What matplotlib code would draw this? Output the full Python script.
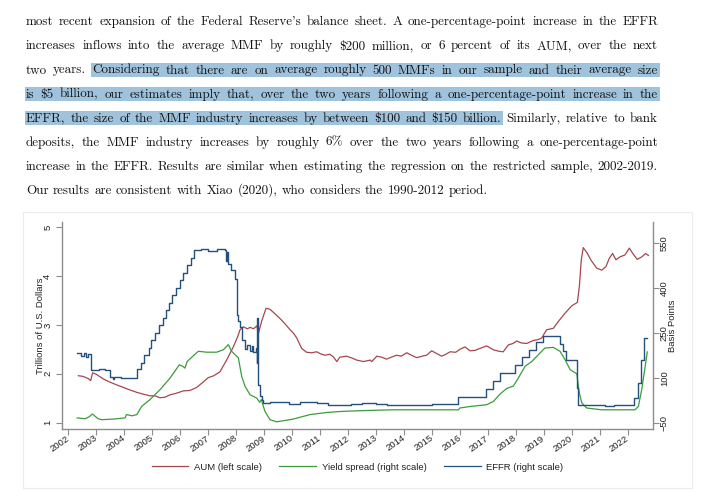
import matplotlib

matplotlib.use("Agg")
import matplotlib.pyplot as plt
from matplotlib.lines import Line2D
from matplotlib.patches import Rectangle

W, H = 707, 492

RED = "#a6474d"
GREEN = "#3b9c3b"
BLUE = "#24507d"
SPINE = "#8c8c8c"

PARAGRAPH = [
    "most recent expansion of the Federal Reserve's balance sheet. A one-percentage-point increase in the EFFR",
    "increases inflows into the average MMF by roughly $200 million, or 6 percent of its AUM, over the next",
    "two years. Considering that there are on average roughly 500 MMFs in our sample and their average size",
    "is $5 billion, our estimates imply that, over the two years following a one-percentage-point increase in the",
    "EFFR, the size of the MMF industry increases by between $100 and $150 billion. Similarly, relative to bank",
    "deposits, the MMF industry increases by roughly 6% over the two years following a one-percentage-point",
    "increase in the EFFR. Results are similar when estimating the regression on the restricted sample, 2002-2019.",
    "Our results are consistent with Xiao (2020), who considers the 1990-2012 period.",
]
HIGHLIGHT_FROM = (2, 2)   # line, word: "Considering"
HIGHLIGHT_TO = (4, 13)    # line, word: "billion."

YEARS = list(range(2002, 2023))
LEFT_TICKS = [1, 2, 3, 4, 5]
RIGHT_TICKS = [-50, 100, 250, 400, 550]
LEGEND_LABELS = ["AUM (left scale)", "Yield spread (right scale)", "EFFR (right scale)"]

# AUM, trillions of dollars (left scale)
AUM_YEARS = [2002.36, 2002.50, 2002.60, 2002.72, 2002.80, 2002.87, 2003.00, 2003.13, 2003.30, 2003.49,
             2003.70, 2003.97, 2004.20, 2004.45, 2004.70, 2004.92, 2005.10, 2005.28, 2005.45, 2005.64,
             2005.85, 2006.11, 2006.35, 2006.59, 2006.80, 2007.00, 2007.20, 2007.42, 2007.66, 2007.90,
             2008.05, 2008.14, 2008.26, 2008.40, 2008.50, 2008.62, 2008.74, 2008.80, 2008.91, 2009.07,
             2009.21, 2009.40, 2009.57, 2009.75, 2009.93, 2010.05, 2010.17, 2010.34, 2010.52, 2010.70,
             2010.88, 2011.05, 2011.18, 2011.35, 2011.47, 2011.60, 2011.71, 2011.95, 2012.15, 2012.31,
             2012.55, 2012.79, 2012.85, 2013.03, 2013.20, 2013.38, 2013.55, 2013.74, 2013.90, 2014.10,
             2014.30, 2014.46, 2014.65, 2014.81, 2014.99, 2015.15, 2015.35, 2015.50, 2015.65, 2015.85,
             2016.00, 2016.18, 2016.36, 2016.55, 2016.72, 2016.96, 2017.20, 2017.40, 2017.55, 2017.73,
             2017.90, 2018.03, 2018.20, 2018.39, 2018.62, 2018.80, 2018.92, 2019.10, 2019.34, 2019.52,
             2019.76, 2020.00, 2020.20, 2020.27, 2020.34, 2020.41, 2020.56, 2020.68, 2020.89, 2021.07,
             2021.22, 2021.34, 2021.46, 2021.58, 2021.72, 2021.90, 2022.06, 2022.18, 2022.34, 2022.50,
             2022.64, 2022.74]
AUM_TRILLIONS = [1.96, 1.95, 1.93, 1.90, 1.86, 2.02, 1.99, 1.94, 1.88, 1.83,
                 1.78, 1.72, 1.67, 1.62, 1.58, 1.55, 1.55, 1.51, 1.52, 1.57,
                 1.60, 1.65, 1.66, 1.72, 1.82, 1.92, 1.96, 2.04, 2.28, 2.55,
                 2.75, 2.90, 2.96, 2.92, 2.95, 2.92, 2.98, 2.83, 3.07, 3.34,
                 3.32, 3.22, 3.13, 3.02, 2.90, 2.83, 2.73, 2.52, 2.44, 2.43,
                 2.45, 2.40, 2.38, 2.40, 2.35, 2.25, 2.34, 2.36, 2.32, 2.28,
                 2.25, 2.28, 2.25, 2.36, 2.34, 2.30, 2.34, 2.38, 2.36, 2.43,
                 2.37, 2.33, 2.36, 2.38, 2.47, 2.42, 2.36, 2.40, 2.45, 2.44,
                 2.50, 2.55, 2.47, 2.48, 2.52, 2.57, 2.49, 2.46, 2.45, 2.59,
                 2.62, 2.67, 2.63, 2.62, 2.68, 2.70, 2.73, 2.90, 2.93, 3.07,
                 3.24, 3.39, 3.46, 3.78, 4.33, 4.58, 4.46, 4.33, 4.16, 4.12,
                 4.19, 4.36, 4.46, 4.33, 4.39, 4.43, 4.57, 4.46, 4.34, 4.39,
                 4.46, 4.42]

# yield spread, basis points (right scale)
SPREAD_YEARS = [2002.32, 2002.60, 2002.75, 2002.86, 2003.07, 2003.19, 2003.60, 2004.03, 2004.08, 2004.28,
                2004.45, 2004.62, 2004.92, 2005.28, 2005.64, 2005.97, 2006.09, 2006.17, 2006.25, 2006.47,
                2006.65, 2006.95, 2007.30, 2007.54, 2007.72, 2007.84, 2008.08, 2008.20, 2008.32, 2008.50,
                2008.74, 2008.84, 2008.90, 2009.03, 2009.21, 2009.45, 2010.04, 2010.64, 2011.24, 2011.83,
                2012.79, 2013.60, 2015.95, 2016.00, 2016.36, 2016.96, 2017.20, 2017.43, 2017.67, 2017.91,
                2018.09, 2018.33, 2018.57, 2018.81, 2019.04, 2019.34, 2019.58, 2019.76, 2019.94, 2020.18,
                2020.27, 2020.36, 2020.53, 2021.07, 2022.26, 2022.38, 2022.50, 2022.58, 2022.70]
SPREAD_BP = [-34, -37, -30, -21, -37, -40, -38, -34, -23, -27,
             -23, 4, 27, 60, 99, 143, 138, 132, 154, 173,
             188, 185, 185, 193, 210, 188, 166, 104, 71, 43,
             32, 18, 27, -12, -40, -47, -38, -23, -16, -12,
             -9, -7, -7, -1, 4, 10, 21, 45, 64, 72,
             99, 138, 154, 177, 199, 201, 188, 160, 127, 113,
             49, 16, -1, -7, -7, 4, 60, 110, 186]

# effective fed funds rate, basis points (right scale), level from each date on
EFFR_YEARS = [2002.32, 2002.45, 2002.55, 2002.65, 2002.72, 2002.81, 2003.10, 2003.30, 2003.49, 2003.60,
              2003.65, 2003.90, 2004.47, 2004.60, 2004.72, 2004.87, 2004.95, 2005.10, 2005.24, 2005.37,
              2005.50, 2005.60, 2005.72, 2005.85, 2006.00, 2006.10, 2006.24, 2006.37, 2006.50, 2006.75,
              2007.00, 2007.30, 2007.60, 2007.64, 2007.66, 2007.72, 2007.82, 2007.96, 2008.02, 2008.08,
              2008.14, 2008.21, 2008.30, 2008.40, 2008.48, 2008.55, 2008.62, 2008.70, 2008.74, 2008.76,
              2008.78, 2008.80, 2008.87, 2008.93, 2008.96, 2009.20, 2009.50, 2009.90, 2010.30, 2010.90,
              2011.30, 2011.80, 2012.10, 2012.50, 2013.00, 2013.40, 2014.00, 2015.00, 2015.95, 2016.95,
              2017.20, 2017.45, 2017.97, 2018.22, 2018.47, 2018.72, 2018.97, 2019.58, 2019.70, 2019.80,
              2020.17, 2020.21, 2021.20, 2021.50, 2022.22, 2022.36, 2022.47, 2022.58, 2022.70]
EFFR_BP = [182, 172, 183, 170, 178, 127, 130, 125, 104, 96,
           102, 100, 128, 150, 175, 200, 225, 250, 275, 300,
           325, 350, 375, 400, 425, 450, 475, 500, 525, 530,
           522, 528, 525, 490, 520, 478, 460, 428, 310, 290,
           268, 225, 195, 210, 190, 205, 185, 200, 150, 300,
           110, 75, 40, 25, 15, 20, 18, 13, 18, 15,
           10, 8, 12, 15, 13, 9, 8, 12, 36, 64,
           90, 115, 142, 168, 192, 218, 240, 212, 188, 158,
           65, 8, 7, 9, 33, 83, 158, 233, 233]

plt.rcParams["font.family"] = ["Liberation Sans", "DejaVu Sans"]

fig = plt.figure(figsize=(W / 100, H / 100), dpi=100)
fig.patch.set_facecolor("white")
renderer = fig.canvas.get_renderer()


def fx(x):
    return x / W


def fy(y):
    return 1 - y / H


# ---- paragraph, justified word by word ----
TEXT_FONT = ["cmr10", "DejaVu Serif"]
TEXT_LEFT, TEXT_RIGHT = 26, 658
BASE0, LEAD = 25.3, 24.1


def text_width(s, size):
    t = fig.text(0, 0, s, fontsize=size, family=TEXT_FONT, parse_math=False)
    w = t.get_window_extent(renderer).width
    t.remove()
    return w


size = 10.5
words = [line.split() for line in PARAGRAPH]
space = text_width("x x", size) - text_width("xx", size)
natural = [sum(text_width(w, size) for w in ws) + space * (len(ws) - 1) for ws in words]
size = min(size, size * (TEXT_RIGHT - TEXT_LEFT) / max(natural))
space = text_width("x x", size) - text_width("xx", size)

starts = {}
for i, ws in enumerate(words):
    widths = [text_width(w, size) for w in ws]
    if i < len(words) - 1:
        gap = (TEXT_RIGHT - TEXT_LEFT - sum(widths)) / (len(ws) - 1)
    else:
        gap = space
    x = TEXT_LEFT
    base = BASE0 + i * LEAD
    for j, (w, wd) in enumerate(zip(ws, widths)):
        fig.text(fx(x), fy(base), w, fontsize=size, family=TEXT_FONT, color="#141414",
                 ha="left", va="baseline", parse_math=False, zorder=3)
        starts[(i, j)] = (x, x + wd)
        x += wd + gap

for i in range(HIGHLIGHT_FROM[0], HIGHLIGHT_TO[0] + 1):
    x0 = starts[HIGHLIGHT_FROM][0] - 1.5 if i == HIGHLIGHT_FROM[0] else TEXT_LEFT - 1.5
    x1 = starts[HIGHLIGHT_TO][1] + 1.5 if i == HIGHLIGHT_TO[0] else TEXT_RIGHT + 1.5
    top = BASE0 + i * LEAD - 10.4
    fig.add_artist(Rectangle((fx(x0), fy(top + 13.4)), (x1 - x0) / W, 13.4 / H,
                             transform=fig.transFigure, facecolor="#9fc3dd",
                             edgecolor="none", zorder=1))

# ---- chart ----
fig.add_artist(Rectangle((fx(23), fy(488)), (692 - 23) / W, (488 - 212) / H,
                         transform=fig.transFigure, fill=False, edgecolor="#ebebeb", lw=0.8))

ax = fig.add_axes([fx(62), fy(429), (653 - 62) / W, (429 - 222) / H])
ax.patch.set_alpha(0)
ax.plot(AUM_YEARS, AUM_TRILLIONS, color=RED, lw=0.9)
ax2 = ax.twinx()
ax2.plot(SPREAD_YEARS, SPREAD_BP, color=GREEN, lw=0.9)
ax2.step(EFFR_YEARS, EFFR_BP, where="post", color=BLUE, lw=1.0)

ax.set_xlim(2001.775, 2022.904)
ax.set_ylim(0.871, 5.104)
ax2.set_ylim(-71, 619)
ax.set_xticks(YEARS)
ax.set_yticks(LEFT_TICKS)
ax2.set_yticks(RIGHT_TICKS)

for a in (ax, ax2):
    a.spines["top"].set_visible(False)
    for s in a.spines.values():
        s.set_color(SPINE)
        s.set_linewidth(1.0)
ax.spines["right"].set_visible(False)
ax2.spines["left"].set_visible(False)
ax2.spines["bottom"].set_visible(False)

tick_kw = dict(length=4, width=0.8, color=SPINE, labelsize=6.8, labelcolor="#222222")
ax.tick_params(axis="x", pad=2, **tick_kw)
ax.tick_params(axis="y", pad=3, labelrotation=90, **tick_kw)
ax2.tick_params(axis="y", pad=1, labelrotation=90, **tick_kw)
for lab in ax.get_yticklabels() + ax2.get_yticklabels():
    lab.set_va("center")
for lab in ax.get_xticklabels():
    lab.set_rotation(35)
    lab.set_ha("right")
    lab.set_va("center")
    lab.set_rotation_mode("anchor")

ax.set_ylabel("Trillions of U.S. Dollars", fontsize=6.8, color="#222222", va="center")
ax.yaxis.set_label_coords(-0.0372, 0.5)
ax2.set_ylabel("Basis Points", fontsize=6.8, color="#222222", va="center", rotation=90)
ax2.yaxis.set_label_coords(1.0338, 0.5)

handles = [Line2D([], [], color=c, lw=0.9) for c in (RED, GREEN, BLUE)]
fig.legend(handles, LEGEND_LABELS, loc="center", bbox_to_anchor=(fx(357.5), fy(467)),
           ncol=3, frameon=False, fontsize=6.8, handlelength=3.9, handletextpad=0.55,
           columnspacing=1.9, labelcolor="#222222")

fig.savefig("out.png", dpi=100)
